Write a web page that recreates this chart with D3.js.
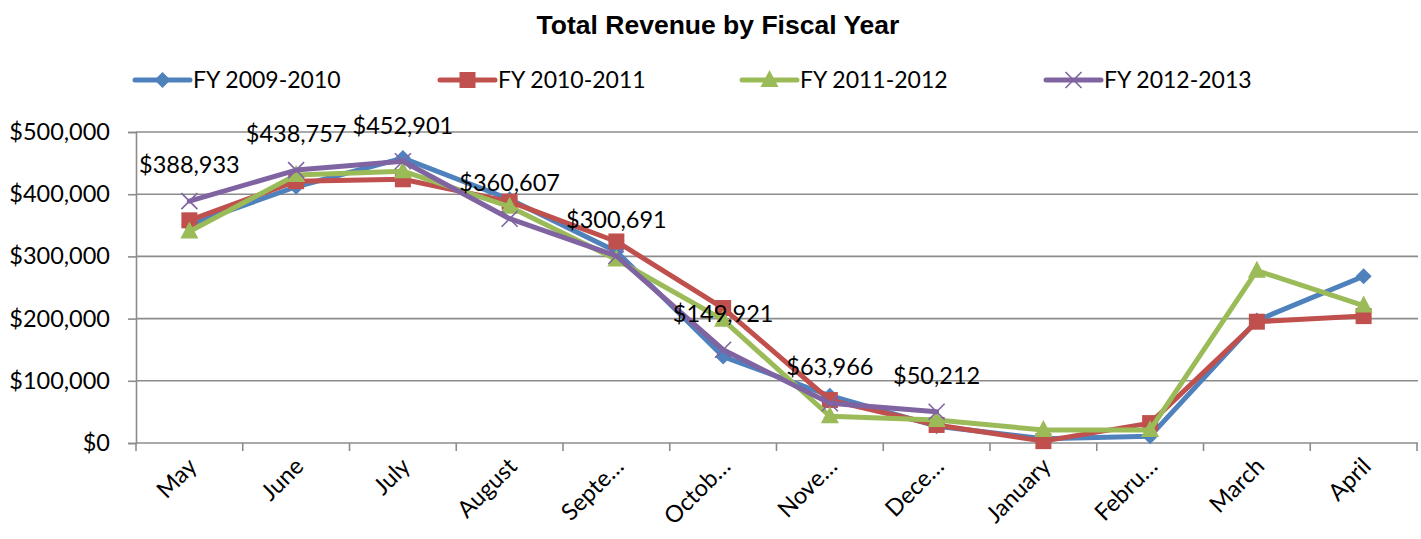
<!DOCTYPE html>
<html>
<head>
<meta charset="utf-8">
<script src="https://cdn.jsdelivr.net/npm/d3@7"></script>
<style>
  html, body { margin: 0; padding: 0; background: #fff; }
  svg { display: block; }
</style>
</head>
<body>
<svg id="chart" width="1421" height="539"></svg>
<script>
// Monthly revenue by fiscal year (May through April)
const months = ["May", "June", "July", "August", "September", "October", "November", "December", "January", "February", "March", "April"];
const monthLabels = ["May", "June", "July", "August", "Septe…", "Octob…", "Nove…", "Dece…", "January", "Febru…", "March", "April"];
const seriesNames = ["FY 2009-2010", "FY 2010-2011", "FY 2011-2012", "FY 2012-2013"];
const fy0910 = [351000, 412000, 458000, 392000, 308000, 139000, 76000, 27000, 7000, 11000, 197000, 268000];
const fy1011 = [358000, 421000, 424000, 388000, 324000, 217000, 69000, 29000, 3000, 32000, 195000, 204000];
const fy1112 = [340000, 431000, 437000, 380000, 295000, 198000, 43000, 37000, 21000, 21000, 277000, 221000];
const fy1213 = [388933, 438757, 452901, 360607, 300691, 149921, 63966, 50212, null, null, null, null];
const yTicks = [0, 100000, 200000, 300000, 400000, 500000];

const colors = ["#4F81BD", "#C0504D", "#9BBB59", "#8064A2"];
const markers = ["diamond", "square", "triangle", "cross"];
const seriesValues = [fy0910, fy1011, fy1112, fy1213];

const svg = d3.select("#chart");
const plot = { left: 136, right: 1417, top: 132, bottom: 443 };
const font = "Lato, 'Open Sans', sans-serif";

const xBand = d3.scaleBand().domain(months).range([plot.left, plot.right]);
const x = d3.scalePoint().domain(months).range([plot.left, plot.right]).padding(0.5);
const y = d3.scaleLinear().domain([0, 500000]).range([plot.bottom, plot.top]);
const fmt = v => "$" + d3.format(",")(v);

// Title
svg.append("text")
  .attr("x", 718).attr("y", 34)
  .attr("text-anchor", "middle")
  .style("font-family", "'Liberation Sans', Arial, sans-serif")
  .style("font-weight", "bold")
  .style("font-size", "26.5px")
  .text("Total Revenue by Fiscal Year");

// Horizontal gridlines
svg.append("g").selectAll("line").data(yTicks.filter(d => d > 0)).join("line")
  .attr("x1", plot.left).attr("x2", plot.right + 1)
  .attr("y1", d => y(d)).attr("y2", d => y(d))
  .attr("stroke", "#8c8c8c").attr("stroke-width", 1.6);

// Y axis
const yAxis = svg.append("g")
  .attr("transform", `translate(${plot.left},0)`)
  .call(d3.axisLeft(y).tickValues(yTicks).tickFormat(fmt).tickSize(8).tickPadding(18));
yAxis.select(".domain").attr("stroke", "#8c8c8c").attr("stroke-width", 1.6);
yAxis.selectAll(".tick line").attr("stroke", "#8c8c8c").attr("stroke-width", 1.6);
yAxis.selectAll("text").style("font-family", font).style("font-size", "23.5px").attr("fill", "#000");

// X axis with tick marks on category boundaries
const xAxisG = svg.append("g").attr("transform", `translate(0,${plot.bottom})`);
xAxisG.append("line")
  .attr("x1", plot.left).attr("x2", plot.right + 1)
  .attr("stroke", "#8c8c8c").attr("stroke-width", 1.6);
const boundaries = months.map(m => xBand(m)).concat([plot.right]);
xAxisG.selectAll("line.tick").data(boundaries).join("line")
  .attr("class", "tick")
  .attr("x1", d => d).attr("x2", d => d)
  .attr("y1", 0).attr("y2", 8)
  .attr("stroke", "#8c8c8c").attr("stroke-width", 1.6);
xAxisG.selectAll("text").data(months).join("text")
  .attr("transform", d => `translate(${x(d) + 3},${19}) rotate(-45)`)
  .attr("text-anchor", "end")
  .attr("dy", "0.35em")
  .style("font-family", font).style("font-size", "23.5px")
  .text((d, i) => monthLabels[i]);

// Marker shapes
function drawMarker(g, type, color) {
  if (type === "diamond") {
    g.append("path").attr("d", "M0,-8L8,0L0,8L-8,0Z").attr("fill", color);
  } else if (type === "square") {
    g.append("rect").attr("x", -8).attr("y", -8).attr("width", 16).attr("height", 16).attr("fill", color);
  } else if (type === "triangle") {
    g.append("path").attr("d", "M0,-10L9,7L-9,7Z").attr("fill", color);
  } else {
    g.append("path").attr("d", "M-8,-8L8,8M-8,8L8,-8").attr("stroke", color).attr("stroke-width", 1.6).attr("fill", "none");
  }
}

// Lines and markers
const line = d3.line()
  .defined(d => d.v != null)
  .x(d => x(d.m)).y(d => y(d.v));

seriesValues.forEach((vals, si) => {
  const data = months.map((m, i) => ({ m, v: vals[i] }));
  const g = svg.append("g");
  g.append("path").datum(data)
    .attr("d", line)
    .attr("fill", "none")
    .attr("stroke", colors[si])
    .attr("stroke-width", 5)
    .attr("stroke-linejoin", "round")
    .attr("stroke-linecap", "round");
  data.filter(d => d.v != null).forEach(d => {
    const mg = g.append("g").attr("transform", `translate(${x(d.m)},${y(d.v)})`);
    drawMarker(mg, markers[si], colors[si]);
  });
});

// Value labels for the latest fiscal year
svg.append("g").selectAll("text")
  .data(months.map((m, i) => ({ m, v: fy1213[i] })).filter(d => d.v != null))
  .join("text")
  .attr("x", d => x(d.m))
  .attr("y", d => y(d.v) - 36)
  .attr("dy", "0.35em")
  .attr("text-anchor", "middle")
  .style("font-family", font).style("font-size", "23.5px")
  .text(d => fmt(d.v));

// Legend
const legend = svg.append("g");
const legendX = [135, 440, 742, 1046];
seriesNames.forEach((name, i) => {
  const g = legend.append("g").attr("transform", `translate(${legendX[i]},80)`);
  g.append("line").attr("x1", 0).attr("x2", 55)
    .attr("stroke", colors[i]).attr("stroke-width", 5).attr("stroke-linecap", "round");
  const mg = g.append("g").attr("transform", "translate(27.5,0)");
  drawMarker(mg, markers[i], colors[i]);
  g.append("text").attr("x", 58).attr("dy", "0.35em")
    .style("font-family", font).style("font-size", "23px")
    .text(name);
});
</script>
</body>
</html>
